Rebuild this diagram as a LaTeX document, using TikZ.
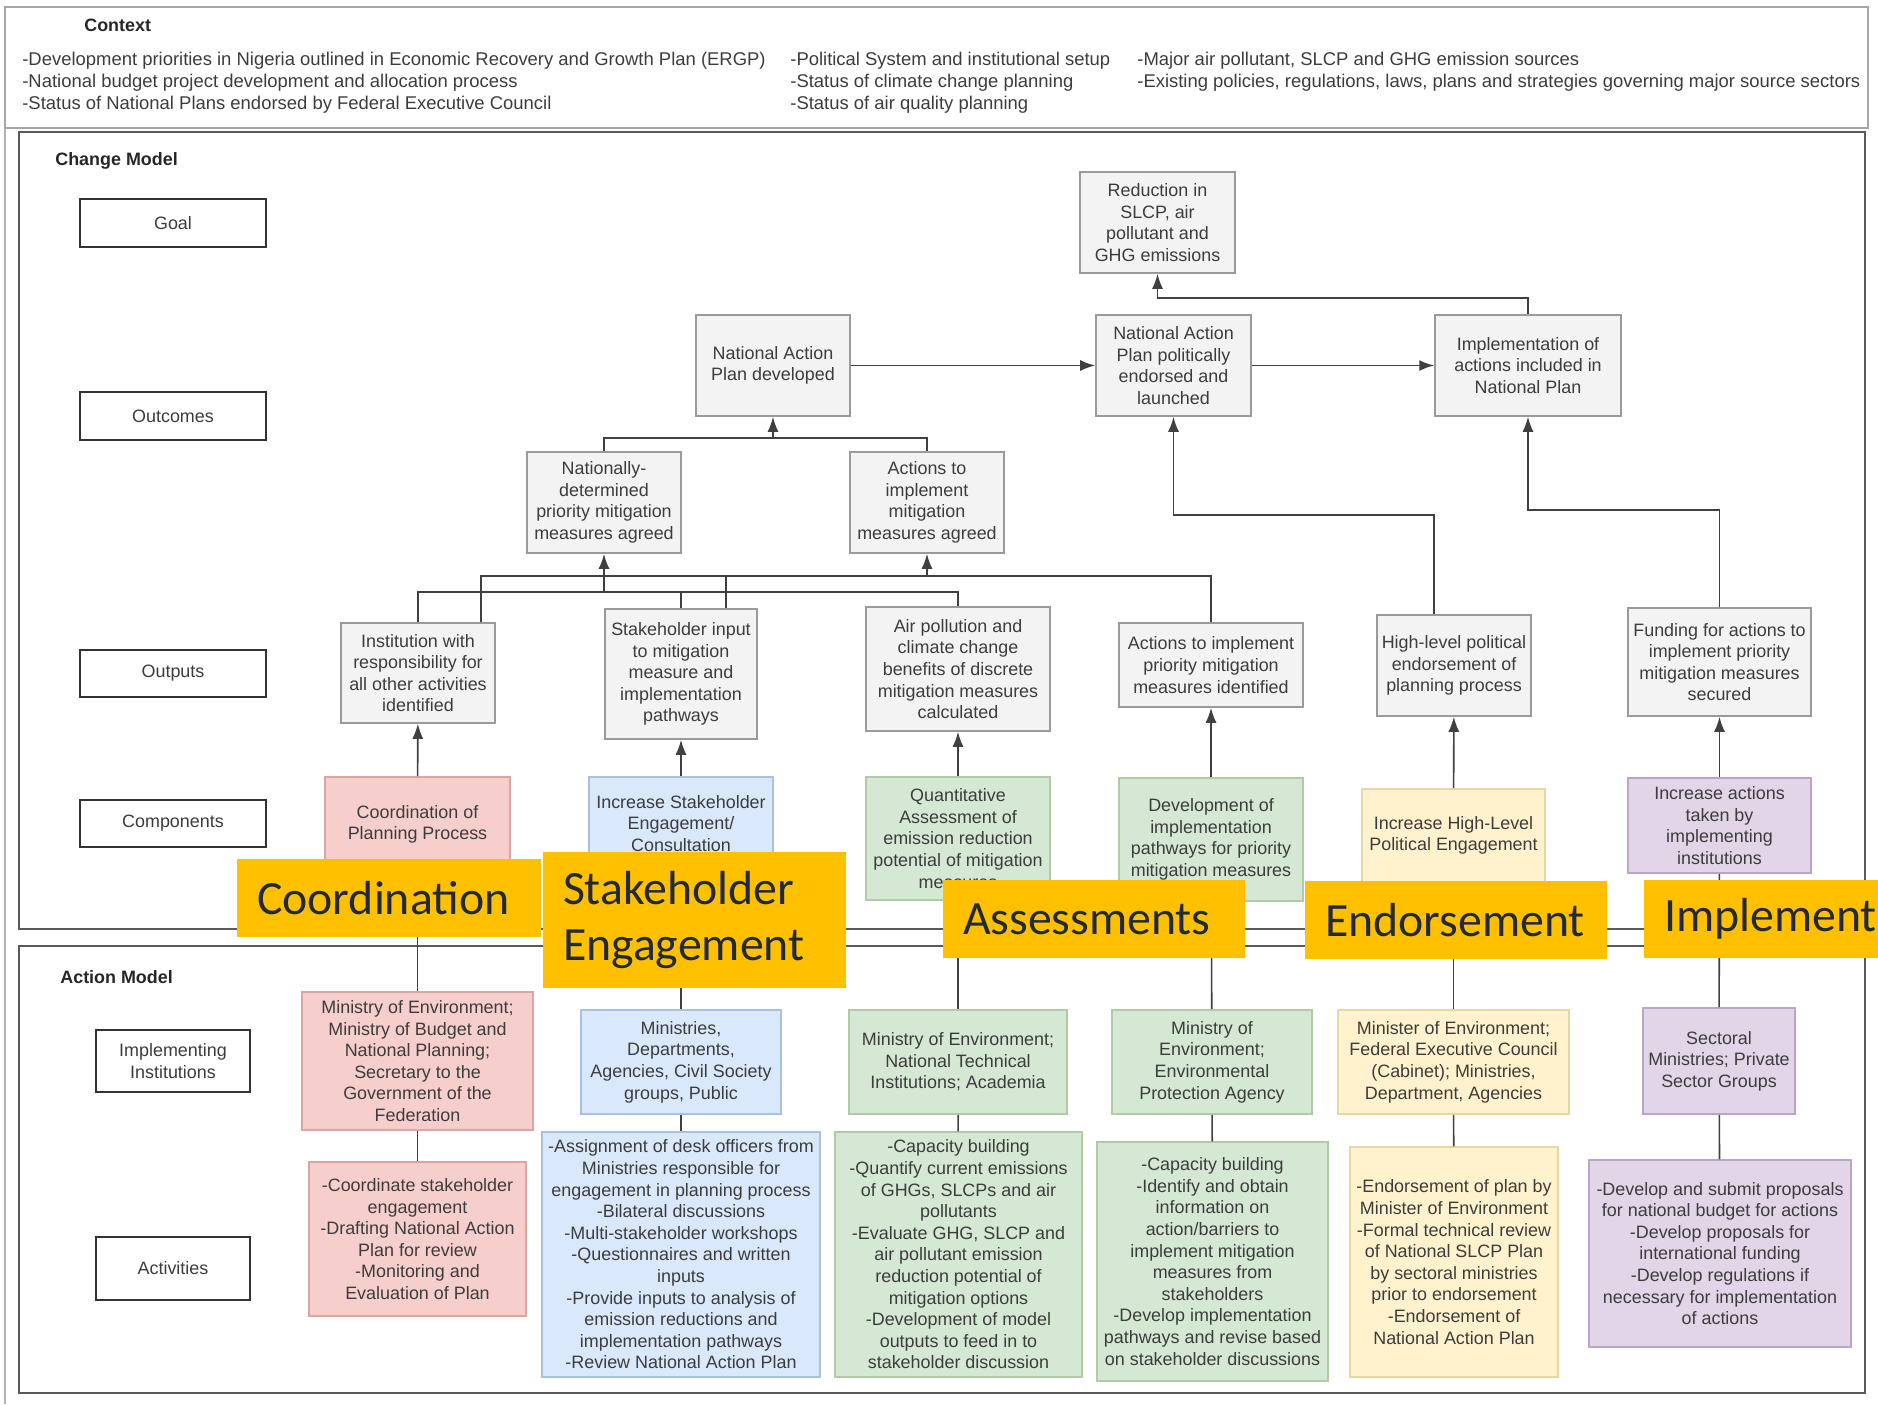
\documentclass[tikz,border=0pt]{standalone}
\usepackage{fontspec}
\setmainfont{Liberation Sans}
\newfontfamily\calib{Carlito}
\usepackage{tikz}
\usetikzlibrary{arrows.meta}

\newcommand\boxfont{\fontsize{10.2}{12.3}\selectfont}
\newcommand\ctxfont{\fontsize{10.5}{12.4}\selectfont}
\definecolor{txtgray}{HTML}{3C3C3C}
\definecolor{outfill}{HTML}{F3F3F3}
\definecolor{outline}{HTML}{9A9A9A}
\definecolor{redfill}{HTML}{F6CFCD}
\definecolor{redline}{HTML}{DDA4A2}
\definecolor{bluefill}{HTML}{DAE8FC}
\definecolor{blueline}{HTML}{A9C0E0}
\definecolor{grnfill}{HTML}{D5E8D4}
\definecolor{grnline}{HTML}{B0CBA8}
\definecolor{yelfill}{HTML}{FFF2CC}
\definecolor{yelline}{HTML}{E8D7A2}
\definecolor{purfill}{HTML}{E1D5E7}
\definecolor{purline}{HTML}{B9A5C6}
\definecolor{tagfill}{HTML}{FFC000}
\definecolor{tagtext}{HTML}{222B35}

\tikzset{
  labelbox/.style={draw=black!80, fill=white, line width=1.1pt, font=\boxfont, text=txtgray, align=center},
  outbox/.style={draw=outline, fill=outfill, line width=0.9pt, font=\boxfont, text=txtgray, align=center, inner sep=0.5pt},
  redbox/.style={outbox, draw=redline, fill=redfill},
  bluebox/.style={outbox, draw=blueline, fill=bluefill},
  grnbox/.style={outbox, draw=grnline, fill=grnfill},
  yelbox/.style={outbox, draw=yelline, fill=yelfill},
  purbox/.style={outbox, draw=purline, fill=purfill},
  ctxtext/.style={font=\ctxfont, text=txtgray, align=left, inner sep=0pt},
  title/.style={font=\bfseries\boxfont, text=black!85, inner sep=0pt},
  tag/.style={fill=tagfill, text=tagtext, font=\calib\fontsize{27.2}{32}\selectfont, align=left, inner xsep=0.4cm, inner ysep=0pt},
  wire/.style={draw=black!75, line width=0.9pt},
}

\begin{document}
\begin{tikzpicture}[x=0.02cm, y=-0.02cm, >={Latex[length=3mm,width=2.2mm]}]
    \useasboundingbox (0,0) rectangle (1878,1404);
    % frames
    \draw [black!35, line width=1pt] (5,7) rectangle (1868,128);
    \draw [black!30, line width=0.8pt] (5,128) -- (5,1404);
    \draw [black!65, line width=1.3pt] (19,132) rectangle (1865,929);
    \draw [black!65, line width=1.3pt] (19,946) rectangle (1865,1393);

    \node [title, anchor=west] (ctx) at (84,25) {Context};
    \node [ctxtext, anchor=west] (ctx1) at (22,82.5) {-Development priorities in Nigeria outlined in Economic Recovery and Growth Plan (ERGP)\\-National budget project development and allocation process\\-Status of National Plans endorsed by Federal Executive Council};
    \node [ctxtext, anchor=west] (ctx2) at (790,82.5) {-Political System and institutional setup\\-Status of climate change planning\\-Status of air quality planning};
    \node [ctxtext, anchor=west] (ctx3) at (1137,72) {-Major air pollutant, SLCP and GHG emission sources\\-Existing policies, regulations, laws, plans and strategies governing major source sectors};

    % change model
    \node [title, anchor=west] (cm) at (55,161) {Change Model};
    \node [labelbox, minimum width=3.72cm, minimum height=0.96cm] (lgoal) at (173,223) {Goal};
    \node [labelbox, minimum width=3.72cm, minimum height=0.96cm] (lout) at (173,416) {Outcomes};
    \node [labelbox, minimum width=3.72cm, minimum height=0.94cm] (loutp) at (173,673.5) {Outputs};
    \node [labelbox, minimum width=3.72cm, minimum height=0.94cm] (lcomp) at (173,823.5) {Components};

    \node [outbox, minimum width=3.1cm, minimum height=2.02cm] (goal) at (1157.5,222.5) {Reduction in\\SLCP, air\\pollutant and\\GHG emissions};
    \node [outbox, minimum width=3.08cm, minimum height=2.02cm] (napd) at (773,365.5) {National Action\\Plan developed};
    \node [outbox, minimum width=3.1cm, minimum height=2.02cm] (nape) at (1173.5,365.5) {National Action\\Plan politically\\endorsed and\\launched};
    \node [outbox, minimum width=3.72cm, minimum height=2.02cm] (impl) at (1528,365.5) {Implementation of\\actions included in\\National Plan};
    \node [outbox, minimum width=3.08cm, minimum height=2.02cm] (ndet) at (604,502.5) {Nationally-\\determined\\priority mitigation\\measures agreed};
    \node [outbox, minimum width=3.08cm, minimum height=2.02cm] (aagr) at (927,502.5) {Actions to\\implement\\mitigation\\measures agreed};

    \node [outbox, minimum width=3.08cm, minimum height=2.0cm] (inst) at (418,673) {Institution with\\responsibility for\\all other activities\\identified};
    \node [outbox, minimum width=3.04cm, minimum height=2.6cm] (shin) at (681,674) {Stakeholder input\\to mitigation\\measure and\\implementation\\pathways};
    \node [outbox, minimum width=3.68cm, minimum height=2.48cm] (airp) at (958,669) {Air pollution and\\climate change\\benefits of discrete\\mitigation measures\\calculated};
    \node [outbox, minimum width=3.68cm, minimum height=1.68cm] (aide) at (1211,665) {Actions to implement\\priority mitigation\\measures identified};
    \node [outbox, minimum width=3.08cm, minimum height=2.02cm] (hlpe) at (1454,665.5) {High-level political\\endorsement of\\planning process};
    \node [outbox, minimum width=3.66cm, minimum height=2.16cm] (fund) at (1719.5,662) {Funding for actions to\\implement priority\\mitigation measures\\secured};

    \node [redbox, minimum width=3.7cm, minimum height=1.9cm] (ccoord) at (417.5,824.5) {Coordination of\\Planning Process};
    \node [bluebox, minimum width=3.68cm, minimum height=1.86cm] (cstake) at (681,823.5) {Increase Stakeholder\\Engagement/\\Consultation};
    \node [grnbox, minimum width=3.68cm, minimum height=2.46cm] (cquant) at (958,838.5) {Quantitative\\Assessment of\\emission reduction\\potential of mitigation\\measures};
    \node [grnbox, minimum width=3.68cm, minimum height=2.46cm] (cdev) at (1211,839.5) {Development of\\implementation\\pathways for priority\\mitigation measures};
    \node [yelbox, minimum width=3.66cm, minimum height=1.86cm] (chigh) at (1453.5,835.5) {Increase High-Level\\Political Engagement};
    \node [purbox, minimum width=3.66cm, minimum height=1.9cm] (cincr) at (1719.5,825.5) {Increase actions\\taken by\\implementing\\institutions};

    % action model
    \node [title, anchor=west] (am) at (60,977) {Action Model};
    \node [labelbox, minimum width=3.08cm, minimum height=1.24cm] (linst) at (173,1061) {Implementing\\Institutions};
    \node [labelbox, minimum width=3.08cm, minimum height=1.26cm] (lact) at (173,1268.5) {Activities};

    \node [redbox, minimum width=4.62cm, minimum height=2.76cm] (ired) at (417.5,1061) {Ministry of Environment;\\Ministry of Budget and\\National Planning;\\Secretary to the\\Government of the\\Federation};
    \node [bluebox, minimum width=4.0cm, minimum height=2.08cm] (iblue) at (681,1062) {Ministries,\\Departments,\\Agencies, Civil Society\\groups, Public};
    \node [grnbox, minimum width=4.36cm, minimum height=2.08cm] (igrn) at (958,1062) {Ministry of Environment;\\National Technical\\Institutions; Academia};
    \node [grnbox, minimum width=4.0cm, minimum height=2.08cm] (ienv) at (1212,1062) {Ministry of\\Environment;\\Environmental\\Protection Agency};
    \node [yelbox, minimum width=4.62cm, minimum height=2.08cm] (iyel) at (1453.5,1062) {Minister of Environment;\\Federal Executive Council\\(Cabinet); Ministries,\\Department, Agencies};
    \node [purbox, minimum width=3.04cm, minimum height=2.12cm] (ipur) at (1719,1061) {Sectoral\\Ministries; Private\\Sector Groups};

    \node [redbox, minimum width=4.34cm, minimum height=3.08cm] (ared) at (417.5,1239) {-Coordinate stakeholder\\engagement\\-Drafting National Action\\Plan for review\\-Monitoring and\\Evaluation of Plan};
    \node [bluebox, minimum width=5.56cm, minimum height=4.9cm] (ablue) at (681,1254.5) {-Assignment of desk officers from\\Ministries responsible for\\engagement in planning process\\-Bilateral discussions\\-Multi-stakeholder workshops\\-Questionnaires and written\\inputs\\-Provide inputs to analysis of\\emission reductions and\\implementation pathways\\-Review National Action Plan};
    \node [grnbox, minimum width=4.94cm, minimum height=4.9cm] (agrn) at (958.5,1254.5) {-Capacity building\\-Quantify current emissions\\of GHGs, SLCPs and air\\pollutants\\-Evaluate GHG, SLCP and\\air pollutant emission\\reduction potential of\\mitigation options\\-Development of model\\outputs to feed in to\\stakeholder discussion};
    \node [grnbox, minimum width=4.62cm, minimum height=4.78cm] (aenv) at (1212.5,1261.5) {-Capacity building\\-Identify and obtain\\information on\\action/barriers to\\implement mitigation\\measures from\\stakeholders\\-Develop implementation\\pathways and revise based\\on stakeholder discussions};
    \node [yelbox, minimum width=4.16cm, minimum height=4.6cm] (ayel) at (1454,1262) {-Endorsement of plan by\\Minister of Environment\\-Formal technical review\\of National SLCP Plan\\by sectoral ministries\\prior to endorsement\\-Endorsement of\\National Action Plan};
    \node [purbox, minimum width=5.24cm, minimum height=3.74cm] (apur) at (1720,1253.5) {-Develop and submit proposals\\for national budget for actions\\-Develop proposals for\\international funding\\-Develop regulations if\\necessary for implementation\\of actions};

    % outcomes and goal
    \draw [wire] [->] (napd) -- (nape);
    \draw [wire] [->] (nape) -- (impl);
    \draw [wire] [->] (impl.north) -- ++(0,-16) -| (goal.south);
    \coordinate (j1) at (773,439);
    \draw [wire] (ndet.north) -- ++(0,-13) -| (aagr.north);
    \draw [wire] [->] (j1) -- (napd.south);
    \coordinate (ha) at ([xshift=-0.4cm]hlpe.north);
    \draw [wire] [->] (ha) -- ++(0,-99) -| (nape.south);
    \draw [wire] [->] (fund.north) -- ++(0,-97) -| (impl.south);

    % outputs to outcomes
    \coordinate (busa) at (0,576);
    \coordinate (busb) at (0,592);
    \coordinate (ia) at ([xshift=1.26cm]inst.north);
    \coordinate (sa) at ([xshift=0.9cm]shin.north);
    \draw [wire] (inst.north) -- (inst.north |- busb) -- (airp.north |- busb) -- (airp.north);
    \draw [wire] (shin.north) -- (shin.north |- busb);
    \draw [wire] [->] (ndet.south |- busb) -- (ndet.south);
    \draw [wire] (ia) -- (ia |- busa) -- (aide.north |- busa) -- (aide.north);
    \draw [wire] (sa) -- (sa |- busa);
    \draw [wire] [->] (aagr.south |- busa) -- (aagr.south);

    % components to outputs
    \draw [wire] [->] (ccoord) -- (inst);
    \draw [wire] [->] (cstake) -- (shin);
    \draw [wire] [->] (cquant) -- (airp);
    \draw [wire] [->] (cdev) -- (aide);
    \draw [wire] [->] (chigh) -- (hlpe);
    \draw [wire] [->] (cincr) -- (fund);

    % components to institutions to activities
    \draw [wire] (ccoord) -- (ired);
    \draw [wire] (cstake) -- (iblue);
    \draw [wire] (cquant) -- (igrn);
    \draw [wire] (cdev) -- (ienv);
    \draw [wire] (chigh) -- (iyel);
    \draw [wire] (cincr) -- (ipur);
    \draw [wire] (ired) -- (ared);
    \draw [wire] (iblue) -- (ablue);
    \draw [wire] (igrn) -- (agrn);
    \draw [wire] (ienv) -- (aenv);
    \draw [wire] (iyel) -- (ayel);
    \draw [wire] (ipur) -- (apur);

    % tags
    \node [tag, text width=5.28cm, minimum height=1.56cm] (tcoord) at (389,898) {Coordination};
    \node [tag, text width=5.26cm, minimum height=2.72cm] (tstake) at (694.5,920) {Stakeholder\\Engagement};
    \node [tag, text width=5.24cm, minimum height=1.56cm] (tass) at (1094,919) {Assessments};
    \node [tag, text width=5.24cm, minimum height=1.56cm] (tend) at (1456,920) {Endorsement};
    \node [tag, text width=3.88cm, minimum height=1.56cm] (timp) at (1761,919) {Implement};
\end{tikzpicture}
\end{document}
